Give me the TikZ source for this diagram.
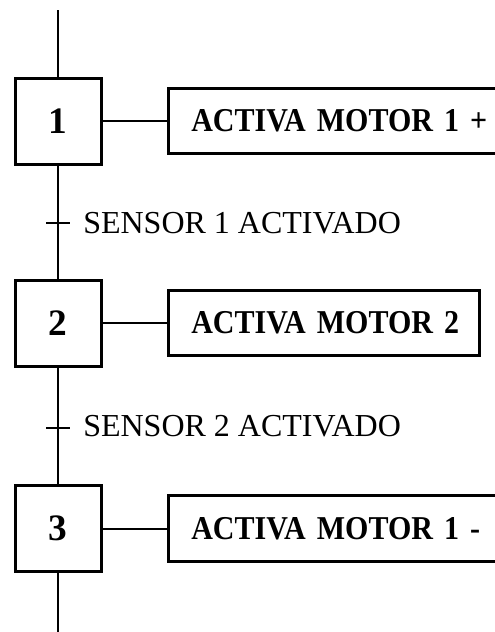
\documentclass[tikz,border=0pt]{standalone}
\usepackage{fontspec}
\setmainfont{Liberation Serif}
\newfontfamily\actfont[FakeStretch=0.9,WordSpace=0.55]{Liberation Serif}
\begin{document}
\begin{tikzpicture}[x=0.75pt,y=-0.75pt,
  stepbox/.style={draw,line width=2.25pt,minimum width=64.5pt,minimum height=64.5pt,
    inner sep=0pt,font=\fontsize{28}{30}\selectfont\bfseries},
  actbox/.style={draw,line width=2.25pt,anchor=west,minimum height=49pt,inner ysep=0pt,
    inner xsep=17.5pt,align=left,font=\actfont\fontsize{25}{27}\selectfont\bfseries},
  wire/.style={line width=1.5pt},
  cond/.style={anchor=base west,inner sep=0pt,font=\fontsize{24}{26}\selectfont}]
\useasboundingbox (0,0) rectangle (495,632);

% steps
\node[stepbox] (s1) at (58,121) {1};
\node[stepbox] (s2) at (58,323) {2};
\node[stepbox] (s3) at (58,528.5) {3};

% actions, level with their steps
\node[actbox,text width=219pt] (a1) at (166.5,121) {\mbox{ACTIVA MOTOR 1 +}};
\node[actbox,text width=198.25pt] (a2) at (166.5,323) {\mbox{ACTIVA MOTOR 2}};
\node[actbox,text width=219pt] (a3) at (166.5,528.5) {\mbox{ACTIVA MOTOR 1 -}};

% main chain
\coordinate (top) at (58,10);
\coordinate (bot) at (58,632);
\coordinate (t1) at (58,223);
\coordinate (t2) at (58,428);
\draw[wire] (top) -- (s1.north);
\draw[wire] (s1.south) -- (s2.north);
\draw[wire] (s2.south) -- (s3.north);
\draw[wire] (s3.south) -- (bot);

% step to action links
\draw[wire] (s1.east) -- (a1.west);
\draw[wire] (s2.east) -- (a2.west);
\draw[wire] (s3.east) -- (a3.west);

% transitions
\draw[wire] ([xshift=-9pt]t1) -- ([xshift=9pt]t1);
\draw[wire] ([xshift=-9pt]t2) -- ([xshift=9pt]t2);
\node[cond] (c1) at (83,233) {SENSOR 1 ACTIVADO};
\node[cond] (c2) at (83,436) {SENSOR 2 ACTIVADO};
\end{tikzpicture}
\end{document}
